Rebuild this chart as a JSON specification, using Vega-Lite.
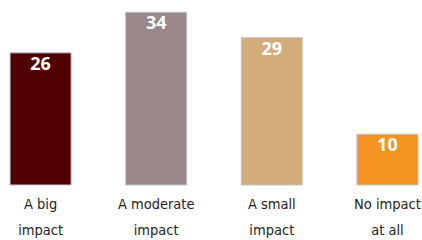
{
  "$schema": "https://vega.github.io/schema/vega-lite/v6.json",
  "width": 428,
  "height": 185,
  "autosize": "none",
  "padding": {"left": 0, "top": 0, "right": 0, "bottom": 55},
  "background": "white",
  "config": {"view": {"stroke": null}},
  "data": {
    "values": [
      {"cat": "A big|impact", "value": 26, "color": "#510000"},
      {"cat": "A moderate|impact", "value": 34, "color": "#9a878a"},
      {"cat": "A small|impact", "value": 29, "color": "#d2ad7b"},
      {"cat": "No impact|at all", "value": 10, "color": "#f4931f"}
    ]
  },
  "encoding": {
    "x": {
      "field": "cat",
      "type": "nominal",
      "sort": null,
      "scale": {"paddingInner": 0.472, "paddingOuter": 0.087},
      "axis": {
        "title": null,
        "domain": false,
        "ticks": false,
        "labelAngle": 0,
        "labelPadding": 12,
        "labelFont": "'DejaVu Sans Condensed', 'Liberation Sans Narrow', sans-serif",
        "labelFontSize": 14.5,
        "labelColor": "#222222",
        "labelLineHeight": 26,
        "labelExpr": "split(datum.label, '|')"
      }
    },
    "y": {
      "field": "value",
      "type": "quantitative",
      "scale": {"domain": [0, 36.4], "nice": false, "zero": true},
      "axis": null
    }
  },
  "layer": [
    {
      "mark": {"type": "bar", "stroke": "#c4c4cc", "strokeWidth": 1},
      "encoding": {"color": {"field": "color", "type": "nominal", "scale": null}}
    },
    {
      "mark": {
        "type": "text",
        "baseline": "top",
        "dy": 3,
        "font": "Open Sans",
        "fontWeight": "bold",
        "fontSize": 18,
        "color": "white"
      },
      "encoding": {"text": {"field": "value", "type": "quantitative"}}
    }
  ]
}
